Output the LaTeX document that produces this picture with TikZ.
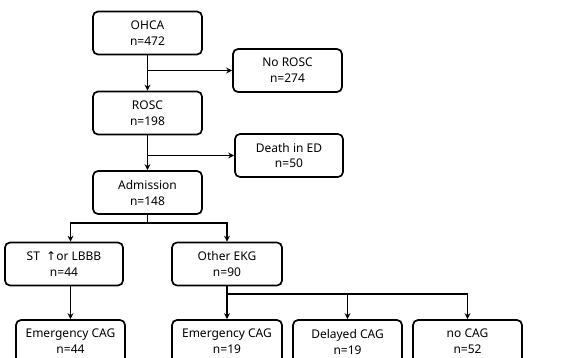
\documentclass[tikz,border=0pt]{standalone}
\usepackage{fontspec}
\setmainfont{Noto Sans}
\newfontfamily\arrowfont{DejaVu Sans}
\usetikzlibrary{arrows.meta, positioning, calc}

\begin{document}
\begin{tikzpicture}[
  x=1pt, y=-1pt,
  >={Stealth[length=6pt, width=6pt]},
  every node/.style={font=\fontsize{12}{16}\selectfont, align=center},
  stage/.style={draw, line width=1.7pt, rounded corners=5pt, fill=white, minimum width=109pt, minimum height=43pt, inner sep=2pt},
  link/.style={line width=1.7pt}
]
\useasboundingbox (0,0) rectangle (586,358);
\clip (0,0) rectangle (586,358);

% Main chain
\node[stage] (OHCA) at (147.5,33) {OHCA\\n=472};
\node[stage] (ROSC) at (147.5,113) {ROSC\\n=198};
\node[stage] (Adm) at (147.5,192.5) {Admission\\n=148};

% Exclusions
\node[stage] (NoROSC) at (287.5,70.5) {No ROSC\\n=274};
\node[stage, minimum width=108pt] (Death) at (289,155.5) {Death in ED\\n=50};

% EKG groups
\node[stage, minimum width=118pt] (ST) at (64,264) {ST \ {\arrowfont↑}or LBBB\\n=44};
\node[stage, minimum width=110pt] (Other) at (227,264) {Other EKG\\n=90};

% CAG groups
\node[stage] (EC1) at (70.5,341.5) {Emergency CAG\\n=44};
\node[stage, minimum width=110pt] (EC2) at (227,341.5) {Emergency CAG\\n=19};
\node[stage] (Del) at (347.5,341.5) {Delayed CAG\\n=19};
\node[stage] (NoCAG) at (467.5,341.5) {no CAG\\n=52};

% Arrows
\draw[link, ->] (OHCA) -- (ROSC);
\draw[link, ->] (OHCA.south |- NoROSC) -- (NoROSC);
\draw[link, ->] (ROSC) -- (Adm);
\draw[link, ->] (ROSC.south |- Death) -- (Death);

\coordinate (split1) at (147.5,223);
\draw[link] (Adm) -- (split1);
\draw[link, ->] (split1) -| (ST.north -| EC1.north);
\draw[link, ->] (split1) -| (Other);
\draw[link, ->] (ST.south -| EC1.north) -- (EC1);

\coordinate (split2) at (227,294);
\draw[link] (Other) -- (split2);
\draw[link, ->] (split2) -- (EC2);
\draw[link, ->] (split2) -| (Del);
\draw[link, ->] (split2) -| (NoCAG);

\end{tikzpicture}
\end{document}
